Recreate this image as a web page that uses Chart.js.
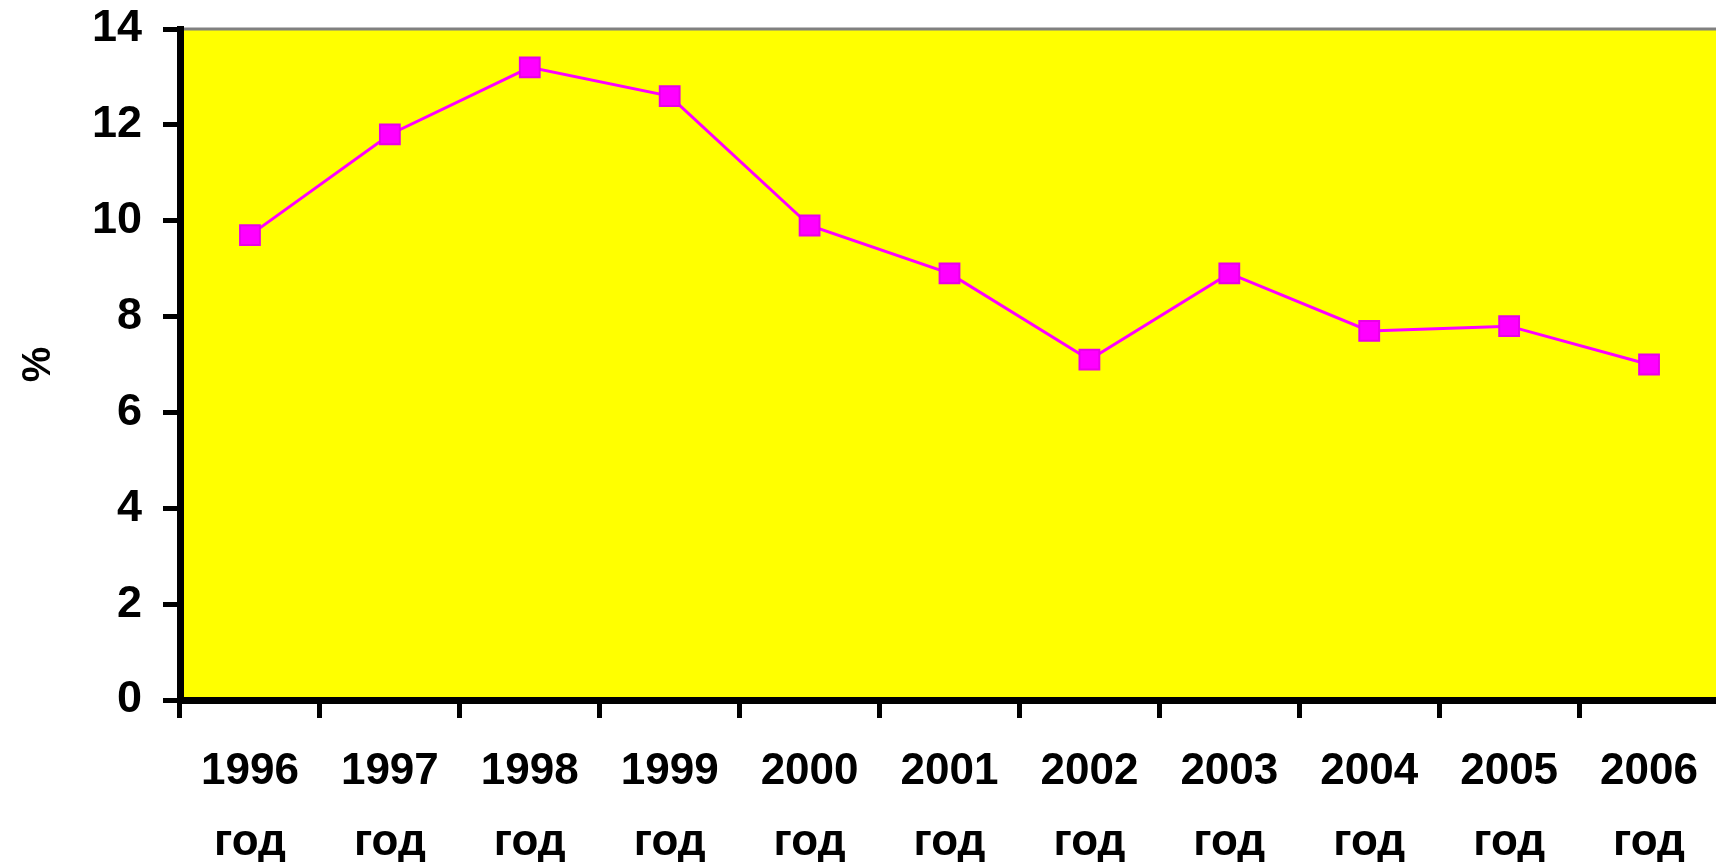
<!DOCTYPE html>
<html>
<head>
<meta charset="utf-8">
<script src="https://cdn.jsdelivr.net/npm/chart.js@4/dist/chart.umd.min.js"></script>
<style>
  html, body { margin: 0; padding: 0; background: #ffffff; overflow: hidden; }
  #wrap { width: 1716px; height: 862px; position: relative; overflow: hidden; }
  #c { display: block; }
</style>
</head>
<body>
<div id="wrap"><canvas id="c" width="1719" height="862"></canvas></div>
<script>
const years = ["1996", "1997", "1998", "1999", "2000", "2001", "2002", "2003", "2004", "2005", "2006"];
const yearSuffix = "год";
const percentValues = [9.7, 11.8, 13.2, 12.6, 9.9, 8.9, 7.1, 8.9, 7.7, 7.8, 7.0];
const yTickMin = 0;
const yTickMax = 14;
const yTickStep = 2;
const yAxisTitle = "%";

const labels = years.map(y => [y, yearSuffix]);

const plotBackground = {
  id: 'plotBackground',
  beforeDraw(chart) {
    const {ctx, chartArea} = chart;
    ctx.save();
    ctx.fillStyle = '#FFFF00';
    ctx.fillRect(chartArea.left, chartArea.top, chartArea.right - chartArea.left, chartArea.bottom - chartArea.top);
    ctx.strokeStyle = '#808080';
    ctx.lineWidth = 3;
    ctx.beginPath();
    ctx.moveTo(chartArea.left, chartArea.top);
    ctx.lineTo(chartArea.right, chartArea.top);
    ctx.stroke();
    ctx.restore();
  }
};

const FONT = "'Liberation Sans', Arial, sans-serif";

new Chart(document.getElementById('c'), {
  type: 'line',
  data: {
    labels: labels,
    datasets: [{
      data: percentValues,
      borderColor: '#FF00FF',
      backgroundColor: '#FF00FF',
      borderWidth: 3,
      pointStyle: 'rect',
      pointRadius: 14,
      pointHoverRadius: 14,
      pointBackgroundColor: '#FF00FF',
      pointBorderColor: '#E800E8',
      pointBorderWidth: 2,
      tension: 0,
      fill: false
    }]
  },
  options: {
    responsive: false,
    animation: false,
    events: [],
    layout: { autoPadding: false, padding: { top: 29, right: 0, bottom: 0, left: 0 } },
    plugins: {
      legend: { display: false },
      tooltip: { enabled: false }
    },
    scales: {
      x: {
        offset: true,
        grid: {
          offset: true,
          drawOnChartArea: false,
          drawTicks: true,
          tickLength: 18,
          tickWidth: 5,
          tickColor: '#000000'
        },
        border: { display: true, color: '#000000', width: 7 },
        ticks: {
          color: '#000000',
          padding: 19,
          maxRotation: 0,
          autoSkip: false,
          font: { family: FONT, size: 44, weight: 'bold', lineHeight: 1.6 }
        },
        afterFit(scale) {
          scale.height = 162;
          scale.paddingLeft = 0;
          scale.paddingRight = 0;
        }
      },
      y: {
        min: yTickMin,
        max: yTickMax,
        grid: {
          drawOnChartArea: false,
          drawTicks: true,
          tickLength: 17,
          tickWidth: 5,
          tickColor: '#000000'
        },
        border: { display: true, color: '#000000', width: 7 },
        ticks: {
          stepSize: yTickStep,
          color: '#000000',
          padding: 21,
          font: { family: FONT, size: 45, weight: 'bold' }
        },
        title: {
          display: true,
          text: yAxisTitle,
          color: '#000000',
          padding: { top: 15, bottom: 0 },
          font: { family: FONT, size: 40, weight: 'bold' }
        },
        afterFit(scale) {
          scale.width = 180;
          scale.paddingTop = 0;
          scale.paddingBottom = 0;
        }
      }
    }
  },
  plugins: [plotBackground]
});
</script>
</body>
</html>
